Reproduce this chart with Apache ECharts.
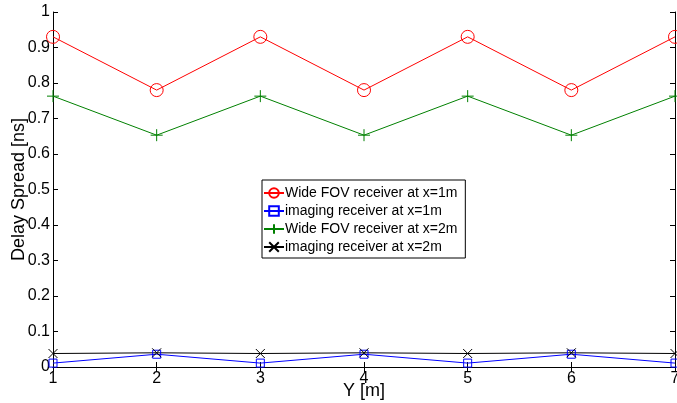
<!DOCTYPE html>
<html><head><meta charset="utf-8">
<script src="https://cdn.jsdelivr.net/npm/echarts@6/dist/echarts.min.js"></script>
<style>html,body{margin:0;padding:0;background:#fff}#c{width:677px;height:403px}</style>
</head><body><div id="c"></div>
<script>
const yPositions = [1, 2, 3, 4, 5, 6, 7];
const wideFov1m = [0.93, 0.78, 0.93, 0.78, 0.93, 0.78, 0.93];
const imaging1m = [0.011, 0.036, 0.011, 0.036, 0.011, 0.036, 0.011];
const wideFov2m = [0.763, 0.653, 0.763, 0.653, 0.763, 0.653, 0.763];
const imaging2m = [0.038, 0.040, 0.038, 0.040, 0.038, 0.040, 0.038];
const seriesNames = ['Wide FOV receiver at x=1m', 'imaging receiver at x=1m', 'Wide FOV receiver at x=2m', 'imaging receiver at x=2m'];

const pair = arr => yPositions.map((x, i) => [x, arr[i]]);
const F = 'Liberation Sans, Arial, sans-serif';
const plusPath = 'path://M0,5L10,5M5,0L5,10';
const crossPath = 'path://M0,0L10,10M10,0L0,10';

const chart = echarts.init(document.getElementById('c'), null, {renderer: 'canvas'});
const axisLine = {show: true, lineStyle: {color: '#000', width: 1}};
chart.setOption({
  animation: false,
  grid: {left: 53, right: 2, top: 12, bottom: 36, show: false, containLabel: false, outerBoundsMode: 'none'},
  xAxis: [
    {type: 'value', min: 1, max: 7, interval: 1, position: 'bottom',
     name: 'Y [m]', nameLocation: 'middle', nameGap: 15, nameMoveOverlap: false,
     nameTextStyle: {fontFamily: F, fontSize: 18, color: '#000'},
     axisLine: axisLine, axisTick: {inside: true, length: 5, lineStyle: {color: '#000'}},
     axisLabel: {fontFamily: F, fontSize: 16, color: '#000', margin: 4},
     splitLine: {show: false}},
    {type: 'value', min: 1, max: 7, interval: 1, position: 'top',
     axisLine: axisLine, axisTick: {inside: true, length: 5, lineStyle: {color: '#000'}},
     axisLabel: {show: false}, splitLine: {show: false}}
  ],
  yAxis: [
    {type: 'value', min: 0, max: 1, interval: 0.1, position: 'left',
     name: 'Delay Spread [ns]', nameLocation: 'middle', nameGap: 25, nameMoveOverlap: false,
     nameTextStyle: {fontFamily: F, fontSize: 18, color: '#000'},
     axisLine: axisLine, axisTick: {inside: true, length: 5, lineStyle: {color: '#000'}},
     axisLabel: {fontFamily: F, fontSize: 16, color: '#000', margin: 3,
       formatter: v => (Math.round(v * 10) / 10).toString()},
     splitLine: {show: false}},
    {type: 'value', min: 0, max: 1, interval: 0.1, position: 'right',
     axisLine: axisLine, axisTick: {inside: true, length: 5, lineStyle: {color: '#000'}},
     axisLabel: {show: false}, splitLine: {show: false}}
  ],
  legend: {
    orient: 'vertical', left: 262, top: 180,
    data: seriesNames,
    backgroundColor: '#fff', borderColor: '#000', borderWidth: 1,
    padding: [6, 8, 4, 1], itemGap: 4, itemWidth: 20, itemHeight: 12,
    textStyle: {fontFamily: F, fontSize: 14, color: '#000', padding: [0, 0, 0, -4], lineHeight: 14}
  },
  series: [
    {name: seriesNames[0], type: 'line', data: pair(wideFov1m), symbol: 'circle', symbolSize: 13,
     lineStyle: {color: '#ff0000', width: 1}, itemStyle: {color: 'transparent', borderColor: '#ff0000', borderWidth: 1}},
    {name: seriesNames[1], type: 'line', data: pair(imaging1m), symbol: 'rect', symbolSize: 8,
     lineStyle: {color: '#0000ff', width: 1}, itemStyle: {color: 'transparent', borderColor: '#0000ff', borderWidth: 1}},
    {name: seriesNames[2], type: 'line', data: pair(wideFov2m), symbol: plusPath, symbolSize: 12,
     lineStyle: {color: '#008000', width: 1}, itemStyle: {color: 'transparent', borderColor: '#008000', borderWidth: 1}},
    {name: seriesNames[3], type: 'line', data: pair(imaging2m), symbol: crossPath, symbolSize: 9,
     lineStyle: {color: '#000000', width: 1}, itemStyle: {color: 'transparent', borderColor: '#000000', borderWidth: 1}}
  ]
});
</script></body></html>
